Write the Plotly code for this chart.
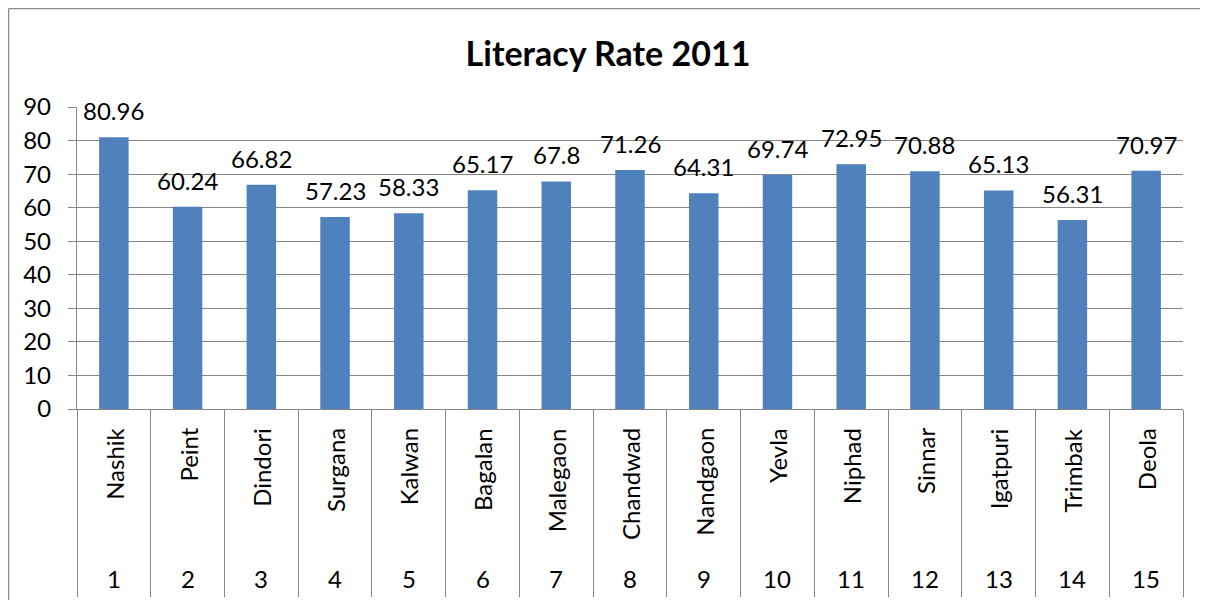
import plotly.graph_objects as go

numbers = [str(i) for i in range(1, 16)]
names = ["Nashik", "Peint", "Dindori", "Surgana", "Kalwan", "Bagalan", "Malegaon",
         "Chandwad", "Nandgaon", "Yevla", "Niphad", "Sinnar", "Igatpuri", "Trimbak", "Deola"]
literacy = [80.96, 60.24, 66.82, 57.23, 58.33, 65.17, 67.8, 71.26, 64.31, 69.74,
            72.95, 70.88, 65.13, 56.31, 70.97]
value_labels = ["80.96", "60.24", "66.82", "57.23", "58.33", "65.17", "67.8", "71.26",
                "64.31", "69.74", "72.95", "70.88", "65.13", "56.31", "70.97"]
y_ticks = [0, 10, 20, 30, 40, 50, 60, 70, 80, 90]

FONT = "Lato"
GRID = "#868686"
OFF = 8  # page body margin
W, H = 1192, 592
L, T = 77 - OFF, 107 - OFF
PW, PH = 1106, 302
R, B = W - L - PW, H - T - PH

def py(screen_y):
    return (T + PH - (screen_y - OFF)) / PH

def pxr(screen_x):
    return (screen_x - OFF - L) / PW

fig = go.Figure()
fig.add_trace(go.Bar(x=names, y=literacy, marker=dict(color="#4F81BD", line=dict(width=0)),
                     hoverinfo="x+y"))

ann = []
for n, v, t in zip(names, literacy, value_labels):
    ann.append(dict(x=n, y=v, xref="x", yref="y", text=t, showarrow=False,
                    yanchor="bottom", yshift=10, font=dict(size=24, color="black", family=FONT)))
for n, num in zip(names, numbers):
    ann.append(dict(x=n, y=py(426), xref="x", yref="paper", text=n, showarrow=False,
                    textangle=-90, yanchor="top", xanchor="center",
                    font=dict(size=24, color="black", family=FONT)))
    ann.append(dict(x=n, y=py(578), xref="x", yref="paper", text=num, showarrow=False,
                    yanchor="middle", font=dict(size=24, color="black", family=FONT)))

border = dict(color="#8c8c8c", width=1.5)
fig.update_layout(
    width=W, height=H,
    margin=dict(l=L, r=R, t=T, b=B, autoexpand=False),
    paper_bgcolor="white", plot_bgcolor="white",
    showlegend=False,
    bargap=0.6,
    title=dict(text="<b>Literacy Rate 2011</b>", x=(608 - OFF) / W, xref="container",
               xanchor="center", y=1 - (54 - OFF) / H, yref="container", yanchor="middle",
               font=dict(size=34, color="black", family=FONT)),
    xaxis=dict(type="category", tickson="boundaries", ticks="outside", ticklen=187,
               tickcolor=GRID, tickwidth=1.3, showticklabels=False, showline=True,
               linecolor=GRID, linewidth=1.3, showgrid=False, automargin=False),
    yaxis=dict(range=[0, 90], tickvals=y_ticks, ticks="outside", ticklen=8, tickcolor=GRID,
               tickwidth=1.3, showline=True, linecolor=GRID, linewidth=1.3, showgrid=True,
               gridcolor=GRID, gridwidth=1.3, zeroline=False, ticklabelstandoff=12,
               automargin=False,
               tickfont=dict(size=24, color="black", family=FONT)),
    annotations=ann,
    shapes=[
        dict(type="line", xref="paper", yref="paper", x0=pxr(8.5), x1=pxr(1240),
             y0=py(8.5), y1=py(8.5), line=border),
        dict(type="line", xref="paper", yref="paper", x0=pxr(8.5), x1=pxr(8.5),
             y0=py(8.5), y1=py(640), line=border),
    ],
)

fig.write_html("out.html")
